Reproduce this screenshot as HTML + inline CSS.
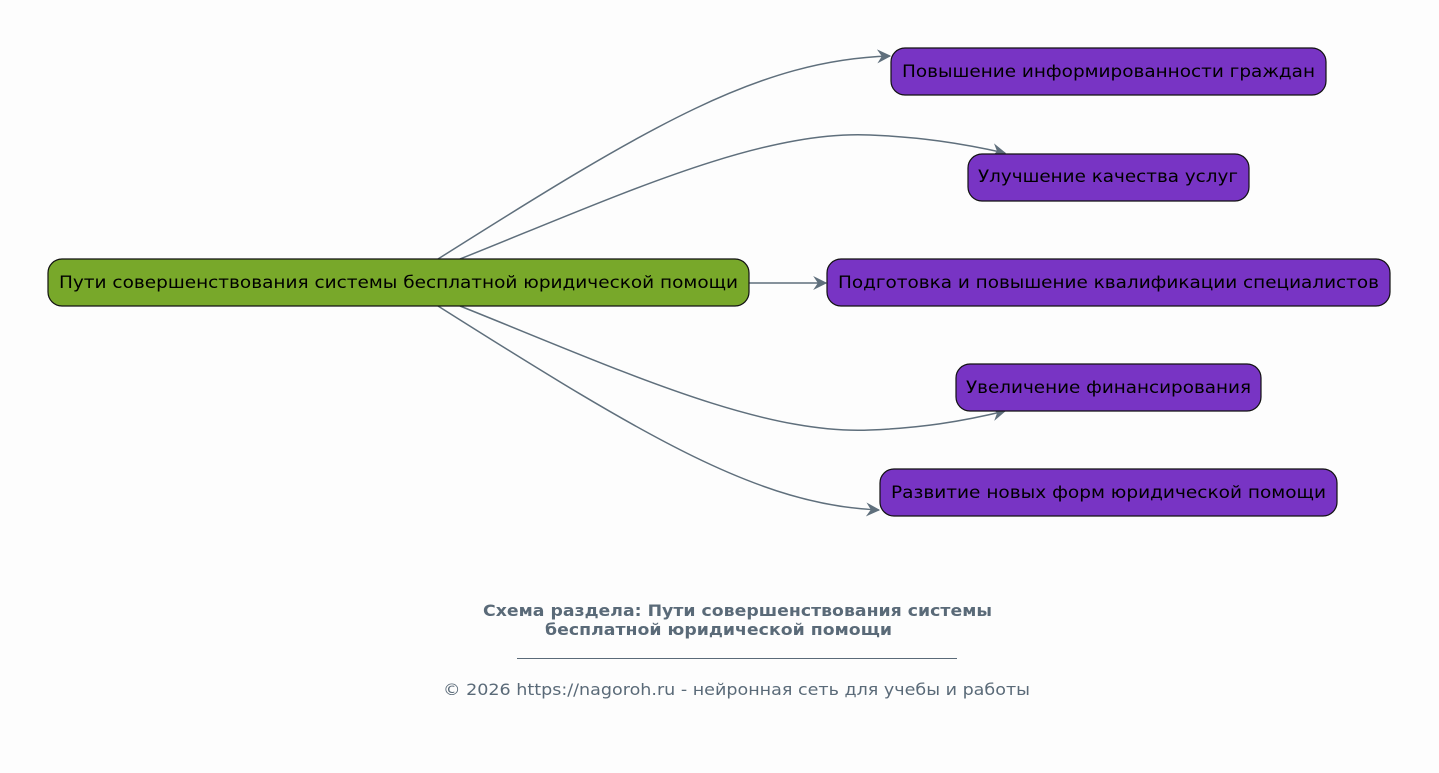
<!DOCTYPE html>
<html><head><meta charset="utf-8"><style>
html,body{margin:0;padding:0;background:#fdfdfd;}
svg{display:block;font-family:"DejaVu Sans","Liberation Sans",sans-serif;}
</style></head><body>
<svg width="1439" height="773" viewBox="0 0 1439 773">
<defs>
<marker id="a" viewBox="0 0 12 12" refX="11" refY="6" markerWidth="14" markerHeight="14" markerUnits="userSpaceOnUse" orient="auto">
<path d="M0,0 L12,6 L0,12 L4,6 Z" fill="#5f6f7c"/>
</marker>
</defs>
<g fill="none" stroke="#5f6f7c" stroke-width="1.5">
<path d="M438,259 C650,125 760,60 890,56" marker-end="url(#a)"/>
<path d="M460,259 C620,195 760,130 870,135 C920,137 960,143 1005,153" marker-end="url(#a)"/>
<path d="M749,283 L826,283" marker-end="url(#a)"/>
<path d="M460,306 C620,370 760,435 870,430 C920,428 960,422 1005,411" marker-end="url(#a)"/>
<path d="M438,306 C650,440 760,505 879,510" marker-end="url(#a)"/>
</g>
<g stroke="#111" stroke-width="1.2">
<rect x="48" y="259" width="701" height="47" rx="14" fill="#78a82a"/>
<rect x="891" y="48" width="435" height="47" rx="14" fill="#7834c4"/>
<rect x="968" y="154" width="281" height="47" rx="14" fill="#7834c4"/>
<rect x="827" y="259" width="563" height="47" rx="14" fill="#7834c4"/>
<rect x="956" y="364" width="305" height="47" rx="14" fill="#7834c4"/>
<rect x="880" y="469" width="457" height="47" rx="14" fill="#7834c4"/>
</g>
<g font-size="17" fill="#000">
<text x="59" y="288" textLength="679" lengthAdjust="spacingAndGlyphs">Пути совершенствования системы бесплатной юридической помощи</text>
<text x="902" y="77" textLength="413" lengthAdjust="spacingAndGlyphs">Повышение информированности граждан</text>
<text x="978" y="182" textLength="260" lengthAdjust="spacingAndGlyphs">Улучшение качества услуг</text>
<text x="838" y="288" textLength="541" lengthAdjust="spacingAndGlyphs">Подготовка и повышение квалификации специалистов</text>
<text x="966" y="393" textLength="285" lengthAdjust="spacingAndGlyphs">Увеличение финансирования</text>
<text x="891" y="498" textLength="435" lengthAdjust="spacingAndGlyphs">Развитие новых форм юридической помощи</text>
</g>
<g fill="#5a6a78">
<text x="483" y="616" font-size="16" font-weight="bold" textLength="509" lengthAdjust="spacingAndGlyphs">Схема раздела: Пути совершенствования системы</text>
<text x="545" y="635" font-size="16" font-weight="bold" textLength="347" lengthAdjust="spacingAndGlyphs">бесплатной юридической помощи</text>
<text x="443" y="695" font-size="16" textLength="587" lengthAdjust="spacingAndGlyphs">© 2026 https://nagoroh.ru - нейронная сеть для учебы и работы</text>
</g>
<line x1="517" y1="658.5" x2="957" y2="658.5" stroke="#5a6a78" stroke-width="1"/>
</svg>
</body></html>
